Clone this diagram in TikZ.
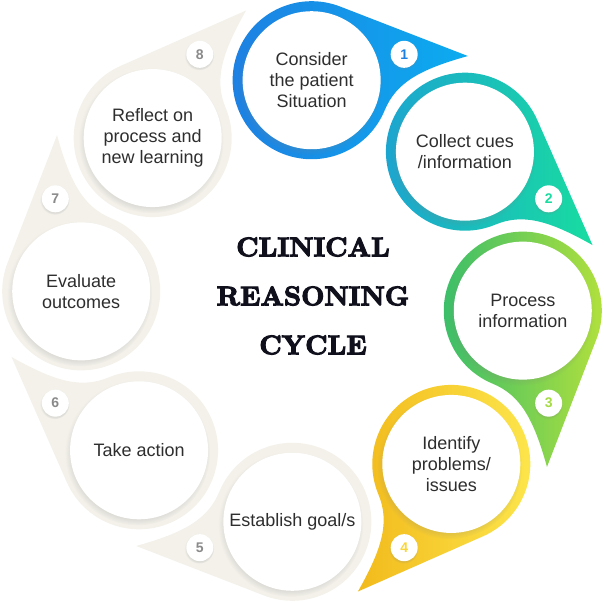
\documentclass[tikz,border=0pt]{standalone}
\usepackage{fontspec}
\newfontfamily\stepfont{Liberation Sans}
\newfontfamily\titlefont[FakeBold=4]{lmroman10-bold.otf}
\usepackage{tikz}
\usetikzlibrary{shadows}
\definecolor{blueL}{HTML}{1E7FE2}
\definecolor{blueR}{HTML}{0CACF0}
\definecolor{tealL}{HTML}{1CA3D2}
\definecolor{tealR}{HTML}{18DCA0}
\definecolor{greenL}{HTML}{34BC6C}
\definecolor{greenR}{HTML}{B8E23A}
\definecolor{yellowL}{HTML}{F2BA1C}
\definecolor{yellowR}{HTML}{FDE84E}
\definecolor{beige}{HTML}{F3F1EA}
\definecolor{numgray}{HTML}{8A8A8A}
\definecolor{textgray}{HTML}{2E2E2E}
\definecolor{titleink}{HTML}{10101C}

\begin{document}
\begin{tikzpicture}[x=1pt, y=1pt,
  disk/.style={circle, fill=white, minimum size=138pt, inner sep=0pt, align=center, text=textgray,
    font=\stepfont\fontsize{18}{21}\selectfont,
    circular drop shadow={shadow scale=1.05, shadow xshift=-1.5pt, shadow yshift=-2.5pt, opacity=0.3}},
  badge/.style={circle, fill=white, minimum size=27pt, inner sep=0pt,
    font=\stepfont\bfseries\fontsize{14}{14}\selectfont,
    circular drop shadow={shadow scale=1.1, shadow xshift=-0.5pt, shadow yshift=-1pt, opacity=0.2}},
  title/.style={align=center, text=titleink, font=\titlefont\fontsize{27}{49}\selectfont},
  bluedrop/.style={left color=blueL, right color=blueR},
  tealdrop/.style={left color=tealL, right color=tealR},
  greendrop/.style={left color=greenL, right color=greenR},
  yellowdrop/.style={left color=yellowL, right color=yellowR},
  beigedrop/.style={fill=beige}
]
\useasboundingbox (-302,-301) rectangle (302,301);

% drops, tail pointing clockwise
\shade[bluedrop, shift={(87.5:221)}] (68.5:79) arc[start angle=68.5, end angle=337.5, radius=79]
  .. controls (-1.7:84.4) and (5.7:108.6) .. (8.8:158.1) -- cycle;
\shade[tealdrop, shift={(42.5:221)}] (23.5:79) arc[start angle=23.5, end angle=292.5, radius=79]
  .. controls (-46.7:84.4) and (-39.3:108.6) .. (-36.2:158.1) -- cycle;
\shade[greendrop, shift={(-2.5:221)}] (-21.5:79) arc[start angle=-21.5, end angle=247.5, radius=79]
  .. controls (-91.7:84.4) and (-84.3:108.6) .. (-81.2:158.1) -- cycle;
\shade[yellowdrop, shift={(-47.5:221)}] (-66.5:79) arc[start angle=-66.5, end angle=202.5, radius=79]
  .. controls (-136.7:84.4) and (-129.3:108.6) .. (-126.2:158.1) -- cycle;
\fill[beigedrop, shift={(-92.5:221)}] (-111.5:79) arc[start angle=-111.5, end angle=157.5, radius=79]
  .. controls (-181.7:84.4) and (-174.3:108.6) .. (-171.2:158.1) -- cycle;
\fill[beigedrop, shift={(-137.5:221)}] (-156.5:79) arc[start angle=-156.5, end angle=112.5, radius=79]
  .. controls (-226.7:84.4) and (-219.3:108.6) .. (-216.2:158.1) -- cycle;
\fill[beigedrop, shift={(177.5:221)}] (158.5:79) arc[start angle=158.5, end angle=427.5, radius=79]
  .. controls (88.3:84.4) and (95.7:108.6) .. (98.8:158.1) -- cycle;
\fill[beigedrop, shift={(132.5:221)}] (113.5:79) arc[start angle=113.5, end angle=382.5, radius=79]
  .. controls (43.3:84.4) and (50.7:108.6) .. (53.8:158.1) -- cycle;

% steps
\node[disk] (consider) at (87.5:221) {Consider\\the patient\\Situation};
\node[disk] (collect) at (42.5:221) {Collect cues\\/information};
\node[disk] (process) at (-2.5:221) {Process\\information};
\node[disk] (identify) at (-47.5:221) {Identify\\problems/\\issues};
\node[disk] (establish) at (-92.5:221) {Establish goal/s};
\node[disk] (action) at (-137.5:221) {Take action};
\node[disk] (evaluate) at (177.5:221) {Evaluate\\outcomes};
\node[disk] (reflect) at (132.5:221) {Reflect on\\process and\\new learning};

% numbers
\node[badge, text=blueL] (n1) at (67.5:267) {1};
\node[badge, text=tealR] (n2) at (22.5:267) {2};
\node[badge, text=greenR!85!greenL] (n3) at (-22.5:267) {3};
\node[badge, text=yellowR!60!yellowL] (n4) at (-67.5:267) {4};
\node[badge, text=numgray] (n5) at (-112.5:267) {5};
\node[badge, text=numgray] (n6) at (-157.5:267) {6};
\node[badge, text=numgray] (n7) at (157.5:267) {7};
\node[badge, text=numgray] (n8) at (112.5:267) {8};

\node[title] (cycle) at (11,5) {CLINICAL\\REASONING\\CYCLE};
\end{tikzpicture}
\end{document}
